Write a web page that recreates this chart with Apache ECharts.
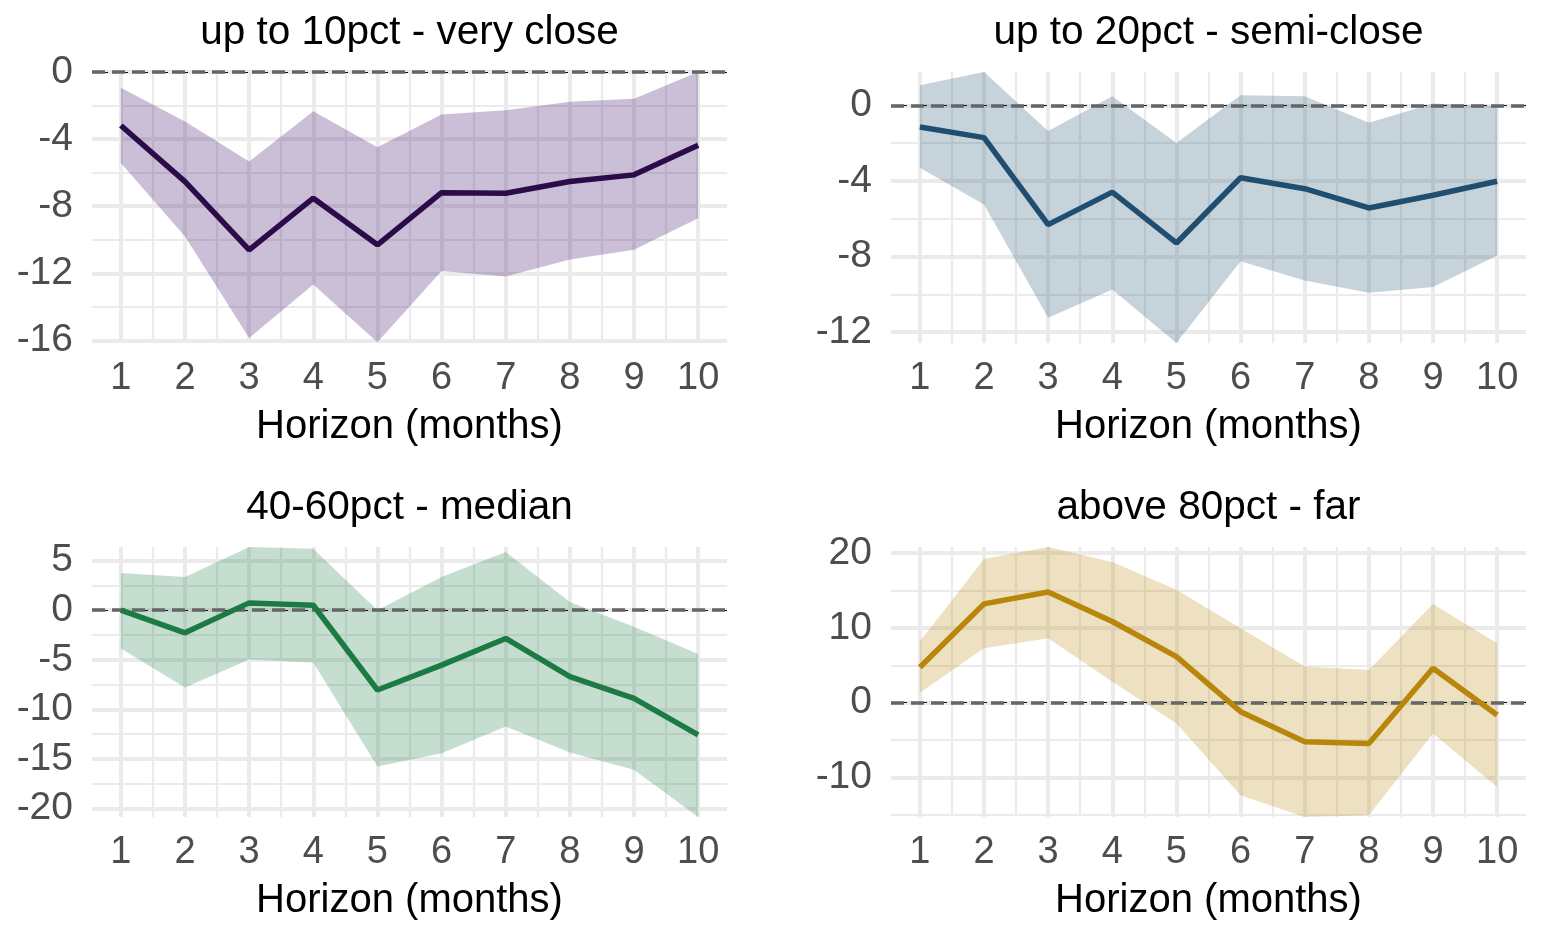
<!DOCTYPE html>
<html>
<head>
<meta charset="utf-8">
<script src="https://cdn.jsdelivr.net/npm/echarts@6/dist/echarts.min.js"></script>
<style>
html,body{margin:0;padding:0;background:#fff;}
#chart{width:1548px;height:948px;}
</style>
</head>
<body>
<div id="chart"></div>
<script>
// ---- data ----
const horizon = [1, 2, 3, 4, 5, 6, 7, 8, 9, 10];
const xMinorTicks = [1.5, 2.5, 3.5, 4.5, 5.5, 6.5, 7.5, 8.5, 9.5];

const titles = ['up to 10pct - very close', 'up to 20pct - semi-close', '40-60pct - median', 'above 80pct - far'];
const xAxisTitle = 'Horizon (months)';

const veryCloseMid   = [-3.19, -6.53, -10.6, -7.52, -10.3, -7.19, -7.23, -6.53, -6.13, -4.37];
const veryCloseUpper = [-0.94, -2.95, -5.33, -2.34, -4.49, -2.54, -2.28, -1.78, -1.6, 0.0];
const veryCloseLower = [-5.43, -9.8, -15.85, -12.67, -16.1, -11.86, -12.18, -11.18, -10.6, -8.72];
const veryCloseYTicks = [0, -4, -8, -12, -16];
const veryCloseYMinor = [-2, -6, -10, -14];

const semiCloseMid   = [-1.15, -1.71, -6.31, -4.59, -7.28, -3.83, -4.41, -5.43, -4.76, -4.02];
const semiCloseUpper = [1.06, 1.76, -1.36, 0.48, -2.0, 0.53, 0.48, -0.92, 0.1, -0.05];
const semiCloseLower = [-3.3, -5.24, -11.23, -9.74, -12.57, -8.25, -9.26, -9.91, -9.61, -7.94];
const semiCloseYTicks = [0, -4, -8, -12];
const semiCloseYMinor = [-2, -6, -10];

const medianMid   = [0.0, -2.28, 0.74, 0.5, -8.05, -5.54, -2.85, -6.71, -8.89, -12.58];
const medianUpper = [3.76, 3.36, 6.38, 6.2, 0.0, 3.36, 5.87, 0.84, -1.68, -4.43];
const medianLower = [-3.86, -7.79, -4.97, -5.27, -15.77, -14.43, -11.74, -14.36, -16.1, -20.87];
const medianYTicks = [5, 0, -5, -10, -15, -20];
const medianYMinor = [2.5, -2.5, -7.5, -12.5, -17.5];

const farMid   = [4.73, 13.2, 14.78, 10.85, 6.16, -1.2, -5.22, -5.45, 4.6, -1.65];
const farUpper = [8.17, 19.2, 20.8, 18.8, 15.1, 9.96, 4.82, 4.37, 13.2, 7.95];
const farLower = [1.34, 7.28, 8.6, 2.8, -2.77, -12.37, -15.27, -15.04, -4.1, -11.25];
const farYTicks = [20, 10, 0, -10];
const farYMinor = [15, 5, -5, -15];

// ---- layout / style ----
const panels = [
  {title: titles[0], mid: veryCloseMid, up: veryCloseUpper, lo: veryCloseLower, major: veryCloseYTicks, minor: veryCloseYMinor,
   ymin: -16.15, ymax: 0, color: '#2c0b4b', fill: 'rgba(68,22,110,0.28)', left: 92, top: 72, height: 271},
  {title: titles[1], mid: semiCloseMid, up: semiCloseUpper, lo: semiCloseLower, major: semiCloseYTicks, minor: semiCloseYMinor,
   ymin: -12.57, ymax: 1.76, color: '#1f4e70', fill: 'rgba(31,78,112,0.25)', left: 891, top: 72, height: 271},
  {title: titles[2], mid: medianMid, up: medianUpper, lo: medianLower, major: medianYTicks, minor: medianYMinor,
   ymin: -20.87, ymax: 6.38, color: '#1c7a44', fill: 'rgba(28,122,68,0.25)', left: 92, top: 547, height: 270},
  {title: titles[3], mid: farMid, up: farUpper, lo: farLower, major: farYTicks, minor: farYMinor,
   ymin: -15.27, ymax: 20.8, color: '#b8860b', fill: 'rgba(184,134,11,0.25)', left: 891, top: 547, height: 270}
];
const W = 635;
const FONT = '"Liberation Sans", Arial, sans-serif';
const gridColor = '#ebebeb';

const option = {
  animation: false,
  backgroundColor: '#ffffff',
  grid: [], xAxis: [], yAxis: [], series: [], graphic: []
};

panels.forEach((p, i) => {
  option.grid.push({left: p.left, top: p.top, width: W, height: p.height, containLabel: false});
  option.xAxis.push({
    type: 'value', gridIndex: i, min: 0.55, max: 10.45,
    axisLine: {show: false}, axisTick: {show: false}, splitLine: {show: false},
    axisLabel: {customValues: horizon, margin: 17, fontSize: 38, color: '#4d4d4d', fontFamily: FONT}
  });
  option.yAxis.push({
    type: 'value', gridIndex: i, min: p.ymin, max: p.ymax,
    axisLine: {show: false}, axisTick: {show: false}, splitLine: {show: false},
    axisLabel: {customValues: p.major, margin: 19, fontSize: 39, color: '#4d4d4d', fontFamily: FONT}
  });
  const gridLines = [];
  horizon.forEach(v => gridLines.push({xAxis: v, lineStyle: {color: gridColor, width: 4, type: 'solid'}}));
  xMinorTicks.forEach(v => gridLines.push({xAxis: v, lineStyle: {color: gridColor, width: 2.2, type: 'solid'}}));
  p.major.forEach(v => gridLines.push({yAxis: v, lineStyle: {color: gridColor, width: 4, type: 'solid'}}));
  p.minor.forEach(v => gridLines.push({yAxis: v, lineStyle: {color: gridColor, width: 2.2, type: 'solid'}}));
  // gridlines
  option.series.push({
    type: 'line', xAxisIndex: i, yAxisIndex: i, z: 1, silent: true,
    data: horizon.map((x, k) => [x, p.mid[k]]), showSymbol: false, lineStyle: {opacity: 0},
    markLine: {silent: true, symbol: 'none', z: 1, label: {show: false}, animation: false, data: gridLines}
  });
  // band
  option.series.push({
    type: 'custom', xAxisIndex: i, yAxisIndex: i, z: 2, silent: true,
    data: [[horizon[0], p.mid[0]]],
    renderItem: function (params, api) {
      const pts = [];
      for (let k = 0; k < horizon.length; k++) pts.push(api.coord([horizon[k], p.up[k]]));
      for (let k = horizon.length - 1; k >= 0; k--) pts.push(api.coord([horizon[k], p.lo[k]]));
      return {type: 'polygon', shape: {points: pts}, style: {fill: p.fill, stroke: null}};
    }
  });
  // zero line
  option.series.push({
    type: 'line', xAxisIndex: i, yAxisIndex: i, z: 3, silent: true,
    data: horizon.map((x, k) => [x, p.mid[k]]), showSymbol: false, lineStyle: {opacity: 0},
    markLine: {silent: true, symbol: 'none', z: 3, label: {show: false}, animation: false,
      data: [
        {yAxis: 0, lineStyle: {color: '#111111', width: 1, type: [6, 4]}},
        {yAxis: 0, lineStyle: {color: '#666666', width: 3.5, type: [13, 7]}}
      ]}
  });
  // main line
  option.series.push({
    type: 'line', xAxisIndex: i, yAxisIndex: i, z: 4, silent: true,
    data: horizon.map((x, k) => [x, p.mid[k]]), showSymbol: false,
    lineStyle: {color: p.color, width: 5.5}
  });
  const cx = p.left + W / 2;
  const bottom = p.top + p.height;
  option.graphic.push({type: 'text', x: cx, y: p.top - 39, style: {text: p.title, font: '40.5px ' + FONT, fill: '#000', textAlign: 'center', textVerticalAlign: 'middle'}});
  option.graphic.push({type: 'text', x: cx, y: bottom + 84, style: {text: xAxisTitle, font: '40px ' + FONT, fill: '#000', textAlign: 'center', textVerticalAlign: 'middle'}});
});

const chart = echarts.init(document.getElementById('chart'), null, {renderer: 'canvas'});
chart.setOption(option);
</script>
</body>
</html>
